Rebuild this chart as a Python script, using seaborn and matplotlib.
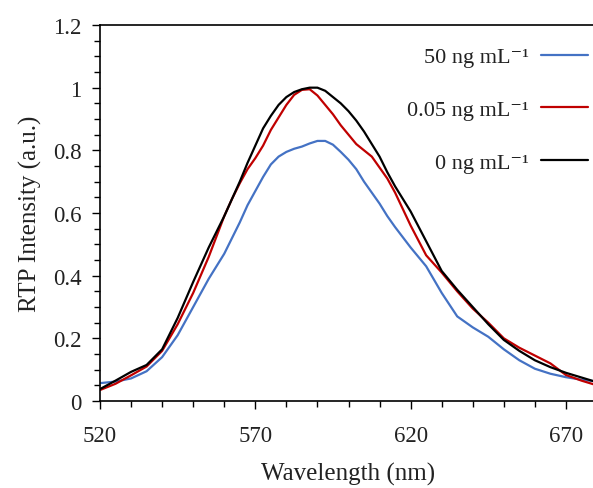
import numpy as np
import pandas as pd
import matplotlib
matplotlib.use("Agg")
import matplotlib.pyplot as plt
import seaborn as sns
from matplotlib.ticker import MultipleLocator, FixedLocator, FixedFormatter

wavelength = [520, 525, 530, 535, 540, 545, 550, 555, 560,
              562.5, 565, 567.5, 570, 572.5, 575, 577.5, 580, 582.5, 585, 587.5,
              590, 592.5, 595, 597.5, 600, 602.5, 605, 607.5, 610, 612.5, 615,
              620, 625, 630, 635, 640, 645, 650, 655, 660, 665, 670, 675, 680]
int_50 = [0.057, 0.062, 0.072, 0.095, 0.14, 0.21, 0.30, 0.39, 0.47,
          0.52, 0.57, 0.625, 0.67, 0.715, 0.755, 0.78, 0.795, 0.805, 0.812, 0.822,
          0.83, 0.83, 0.818, 0.795, 0.77, 0.74, 0.70, 0.665, 0.63, 0.59, 0.555,
          0.49, 0.43, 0.345, 0.27, 0.235, 0.205, 0.165, 0.13, 0.103, 0.087, 0.076, 0.068, 0.062]
int_005 = [0.035, 0.055, 0.082, 0.11, 0.16, 0.245, 0.345, 0.46, 0.59,
           0.645, 0.695, 0.74, 0.775, 0.815, 0.865, 0.905, 0.945, 0.977, 0.993, 0.995,
           0.975, 0.945, 0.915, 0.88, 0.85, 0.82, 0.80, 0.78, 0.745, 0.71, 0.665,
           0.56, 0.465, 0.41, 0.35, 0.295, 0.25, 0.20, 0.17, 0.145, 0.12, 0.083, 0.065, 0.05]
int_0 = [0.038, 0.065, 0.093, 0.115, 0.165, 0.265, 0.38, 0.49, 0.59,
         0.645, 0.70, 0.76, 0.815, 0.87, 0.91, 0.945, 0.97, 0.986, 0.995, 1.0,
         1.0, 0.99, 0.97, 0.95, 0.925, 0.895, 0.86, 0.82, 0.78, 0.73, 0.685,
         0.605, 0.51, 0.415, 0.355, 0.30, 0.245, 0.195, 0.16, 0.13, 0.108, 0.09, 0.075, 0.06]
labels = ["50 ng mL\u207b\u00b9", "0.05 ng mL\u207b\u00b9", "0 ng mL\u207b\u00b9"]
colors = ["#4472C4", "#C00000", "#000000"]
yticks = [0, 0.2, 0.4, 0.6, 0.8, 1.0, 1.2]
yticklabels = ["0", "0.2", "0.4", "0.6", "0.8", "1", "1.2"]
xticks = [520, 570, 620, 670]

sns.set_style("ticks")
plt.rcParams["font.family"] = ["Liberation Serif", "DejaVu Serif"]

df = pd.concat([
    pd.DataFrame({"Wavelength": wavelength, "Intensity": vals, "Sample": lab})
    for vals, lab in zip([int_50, int_005, int_0], labels)
])

fig = plt.figure(figsize=(5.93, 4.89), dpi=100)
ax = fig.add_axes([100 / 593, 87 / 489, 497 / 593, 376 / 489])
sns.lineplot(data=df, x="Wavelength", y="Intensity", hue="Sample",
             palette=dict(zip(labels, colors)), hue_order=labels,
             linewidth=1.6, ax=ax, legend=True)

ax.set_xlim(520, 680)
ax.set_ylim(0, 1.2)
ax.xaxis.set_major_locator(FixedLocator(xticks))
ax.xaxis.set_minor_locator(MultipleLocator(10))
ax.yaxis.set_major_locator(FixedLocator(yticks))
ax.yaxis.set_major_formatter(FixedFormatter(yticklabels))
ax.yaxis.set_minor_locator(MultipleLocator(0.05))
ax.tick_params(which="major", direction="out", length=5.5, width=1.0,
               labelsize=16.5, color="black", labelcolor="#222222")
ax.tick_params(which="minor", direction="out", length=4, width=1.0, color="black")
ax.tick_params(axis="x", which="major", pad=12)
ax.tick_params(axis="y", which="major", pad=8)
for s in ax.spines.values():
    s.set_linewidth(1.2)
    s.set_color("black")
ax.set_xlabel("Wavelength (nm)", fontsize=18, color="#222222", labelpad=11)
ax.set_ylabel("RTP Intensity (a.u.)", fontsize=18, color="#222222", labelpad=8)

leg = ax.legend(loc="upper right", bbox_to_anchor=(1.022, 0.995), frameon=False,
                fontsize=16, markerfirst=False, labelspacing=1.45, handlelength=2.1,
                handletextpad=0.55, title=None)
for t in leg.get_texts():
    t.set_color("#222222")

fig.savefig("out.png", dpi=100)
